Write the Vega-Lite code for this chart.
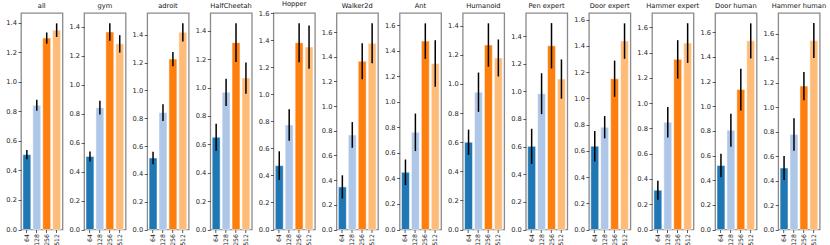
{
  "$schema": "https://vega.github.io/schema/vega-lite/v6.json",
  "background": "white",
  "padding": {"left": 5, "top": 0, "right": 5, "bottom": 0},
  "bounds": "flush",
  "spacing": 21.1,
  "config": {
    "font": "DejaVu Sans",
    "view": {"stroke": "#8a8a8a", "strokeWidth": 1.3},
    "title": {"fontSize": 6.7, "fontWeight": "normal", "font": "DejaVu Sans", "offset": 3, "color": "#111"},
    "axis": {"labelFont": "DejaVu Sans", "labelFontSize": 6.7, "labelColor": "#222", "tickSize": 3, "tickColor": "#333", "tickWidth": 0.8, "domain": false, "grid": false, "labelPadding": 1.5},
    "axisX": {"labelAngle": 270, "labelPadding": 1, "labelFontSize": 6.2},
    "axisY": {"format": ".1f"}
  },
  "data": {"values": [
    {"env": "all", "dim": "64", "mean": 0.507, "err": 0.032},
    {"env": "all", "dim": "128", "mean": 0.841, "err": 0.037},
    {"env": "all", "dim": "256", "mean": 1.296, "err": 0.038},
    {"env": "all", "dim": "512", "mean": 1.350, "err": 0.046},
    {"env": "gym", "dim": "64", "mean": 0.504, "err": 0.034},
    {"env": "gym", "dim": "128", "mean": 0.841, "err": 0.048},
    {"env": "gym", "dim": "256", "mean": 1.363, "err": 0.06},
    {"env": "gym", "dim": "512", "mean": 1.281, "err": 0.06},
    {"env": "adroit", "dim": "64", "mean": 0.514, "err": 0.045},
    {"env": "adroit", "dim": "128", "mean": 0.840, "err": 0.061},
    {"env": "adroit", "dim": "256", "mean": 1.225, "err": 0.051},
    {"env": "adroit", "dim": "512", "mean": 1.417, "err": 0.065},
    {"env": "HalfCheetah", "dim": "64", "mean": 0.650, "err": 0.095},
    {"env": "HalfCheetah", "dim": "128", "mean": 0.966, "err": 0.096},
    {"env": "HalfCheetah", "dim": "256", "mean": 1.316, "err": 0.136},
    {"env": "HalfCheetah", "dim": "512", "mean": 1.067, "err": 0.11},
    {"env": "Hopper", "dim": "64", "mean": 0.473, "err": 0.106},
    {"env": "Hopper", "dim": "128", "mean": 0.774, "err": 0.116},
    {"env": "Hopper", "dim": "256", "mean": 1.383, "err": 0.144},
    {"env": "Hopper", "dim": "512", "mean": 1.351, "err": 0.16},
    {"env": "Walker2d", "dim": "64", "mean": 0.345, "err": 0.094},
    {"env": "Walker2d", "dim": "128", "mean": 0.766, "err": 0.104},
    {"env": "Walker2d", "dim": "256", "mean": 1.363, "err": 0.146},
    {"env": "Walker2d", "dim": "512", "mean": 1.508, "err": 0.162},
    {"env": "Ant", "dim": "64", "mean": 0.448, "err": 0.1},
    {"env": "Ant", "dim": "128", "mean": 0.761, "err": 0.147},
    {"env": "Ant", "dim": "256", "mean": 1.475, "err": 0.139},
    {"env": "Ant", "dim": "512", "mean": 1.300, "err": 0.182},
    {"env": "Humanoid", "dim": "64", "mean": 0.599, "err": 0.087},
    {"env": "Humanoid", "dim": "128", "mean": 0.943, "err": 0.135},
    {"env": "Humanoid", "dim": "256", "mean": 1.267, "err": 0.149},
    {"env": "Humanoid", "dim": "512", "mean": 1.178, "err": 0.127},
    {"env": "Pen expert", "dim": "64", "mean": 0.602, "err": 0.127},
    {"env": "Pen expert", "dim": "128", "mean": 0.983, "err": 0.148},
    {"env": "Pen expert", "dim": "256", "mean": 1.330, "err": 0.164},
    {"env": "Pen expert", "dim": "512", "mean": 1.089, "err": 0.142},
    {"env": "Door expert", "dim": "64", "mean": 0.635, "err": 0.117},
    {"env": "Door expert", "dim": "128", "mean": 0.780, "err": 0.085},
    {"env": "Door expert", "dim": "256", "mean": 1.150, "err": 0.138},
    {"env": "Door expert", "dim": "512", "mean": 1.437, "err": 0.135},
    {"env": "Hammer expert", "dim": "64", "mean": 0.311, "err": 0.075},
    {"env": "Hammer expert", "dim": "128", "mean": 0.849, "err": 0.12},
    {"env": "Hammer expert", "dim": "256", "mean": 1.347, "err": 0.152},
    {"env": "Hammer expert", "dim": "512", "mean": 1.476, "err": 0.157},
    {"env": "Door human", "dim": "64", "mean": 0.519, "err": 0.096},
    {"env": "Door human", "dim": "128", "mean": 0.805, "err": 0.134},
    {"env": "Door human", "dim": "256", "mean": 1.135, "err": 0.169},
    {"env": "Door human", "dim": "512", "mean": 1.530, "err": 0.142},
    {"env": "Hammer human", "dim": "64", "mean": 0.503, "err": 0.099},
    {"env": "Hammer human", "dim": "128", "mean": 0.778, "err": 0.133},
    {"env": "Hammer human", "dim": "256", "mean": 1.173, "err": 0.116},
    {"env": "Hammer human", "dim": "512", "mean": 1.546, "err": 0.143}
  ]},
  "hconcat": [
    {"title": "all", "width": 41.5, "height": 216.5, "transform": [{"filter": "datum.env === 'all'"}],
     "encoding": {"x": {"field": "dim", "type": "ordinal", "sort": ["64","128","256","512"], "title": null, "scale": {"paddingInner": 0.2, "paddingOuter": 0.19}},
                  "y": {"field": "mean", "type": "quantitative", "title": null, "scale": {"domain": [0, 1.466], "nice": false}, "axis": {"values": [0,0.2,0.4,0.6,0.8,1.0,1.2,1.4]}}},
     "layer": [
       {"mark": {"type": "bar", "stroke": "white", "strokeWidth": 0.5}, "encoding": {"color": {"field": "dim", "type": "nominal", "scale": {"domain": ["64","128","256","512"], "range": ["#1f77b4","#aec7e8","#ff7f0e","#ffbb78"]}, "legend": null}}},
       {"mark": {"type": "errorbar", "color": "black", "thickness": 1.5}, "encoding": {"yError": {"field": "err"}}}
     ]},
    {"title": "gym", "width": 41.5, "height": 216.5, "transform": [{"filter": "datum.env === 'gym'"}],
     "encoding": {"x": {"field": "dim", "type": "ordinal", "sort": ["64","128","256","512"], "title": null, "scale": {"paddingInner": 0.2, "paddingOuter": 0.19}},
                  "y": {"field": "mean", "type": "quantitative", "title": null, "scale": {"domain": [0, 1.494], "nice": false}, "axis": {"values": [0,0.2,0.4,0.6,0.8,1.0,1.2,1.4]}}},
     "layer": [
       {"mark": {"type": "bar", "stroke": "white", "strokeWidth": 0.5}, "encoding": {"color": {"field": "dim", "type": "nominal", "scale": {"domain": ["64","128","256","512"], "range": ["#1f77b4","#aec7e8","#ff7f0e","#ffbb78"]}, "legend": null}}},
       {"mark": {"type": "errorbar", "color": "black", "thickness": 1.5}, "encoding": {"yError": {"field": "err"}}}
     ]},
    {"title": "adroit", "width": 41.5, "height": 216.5, "transform": [{"filter": "datum.env === 'adroit'"}],
     "encoding": {"x": {"field": "dim", "type": "ordinal", "sort": ["64","128","256","512"], "title": null, "scale": {"paddingInner": 0.2, "paddingOuter": 0.19}},
                  "y": {"field": "mean", "type": "quantitative", "title": null, "scale": {"domain": [0, 1.556], "nice": false}, "axis": {"values": [0,0.2,0.4,0.6,0.8,1.0,1.2,1.4]}}},
     "layer": [
       {"mark": {"type": "bar", "stroke": "white", "strokeWidth": 0.5}, "encoding": {"color": {"field": "dim", "type": "nominal", "scale": {"domain": ["64","128","256","512"], "range": ["#1f77b4","#aec7e8","#ff7f0e","#ffbb78"]}, "legend": null}}},
       {"mark": {"type": "errorbar", "color": "black", "thickness": 1.5}, "encoding": {"yError": {"field": "err"}}}
     ]},
    {"title": "HalfCheetah", "width": 41.5, "height": 216.5, "transform": [{"filter": "datum.env === 'HalfCheetah'"}],
     "encoding": {"x": {"field": "dim", "type": "ordinal", "sort": ["64","128","256","512"], "title": null, "scale": {"paddingInner": 0.2, "paddingOuter": 0.19}},
                  "y": {"field": "mean", "type": "quantitative", "title": null, "scale": {"domain": [0, 1.525], "nice": false}, "axis": {"values": [0,0.2,0.4,0.6,0.8,1.0,1.2,1.4]}}},
     "layer": [
       {"mark": {"type": "bar", "stroke": "white", "strokeWidth": 0.5}, "encoding": {"color": {"field": "dim", "type": "nominal", "scale": {"domain": ["64","128","256","512"], "range": ["#1f77b4","#aec7e8","#ff7f0e","#ffbb78"]}, "legend": null}}},
       {"mark": {"type": "errorbar", "color": "black", "thickness": 1.5}, "encoding": {"yError": {"field": "err"}}}
     ]},
    {"title": "Hopper", "width": 41.5, "height": 216.5, "transform": [{"filter": "datum.env === 'Hopper'"}],
     "encoding": {"x": {"field": "dim", "type": "ordinal", "sort": ["64","128","256","512"], "title": null, "scale": {"paddingInner": 0.2, "paddingOuter": 0.19}},
                  "y": {"field": "mean", "type": "quantitative", "title": null, "scale": {"domain": [0, 1.603], "nice": false}, "axis": {"values": [0,0.2,0.4,0.6,0.8,1.0,1.2,1.4,1.6]}}},
     "layer": [
       {"mark": {"type": "bar", "stroke": "white", "strokeWidth": 0.5}, "encoding": {"color": {"field": "dim", "type": "nominal", "scale": {"domain": ["64","128","256","512"], "range": ["#1f77b4","#aec7e8","#ff7f0e","#ffbb78"]}, "legend": null}}},
       {"mark": {"type": "errorbar", "color": "black", "thickness": 1.5}, "encoding": {"yError": {"field": "err"}}}
     ]},
    {"title": "Walker2d", "width": 41.5, "height": 216.5, "transform": [{"filter": "datum.env === 'Walker2d'"}],
     "encoding": {"x": {"field": "dim", "type": "ordinal", "sort": ["64","128","256","512"], "title": null, "scale": {"paddingInner": 0.2, "paddingOuter": 0.19}},
                  "y": {"field": "mean", "type": "quantitative", "title": null, "scale": {"domain": [0, 1.754], "nice": false}, "axis": {"values": [0,0.2,0.4,0.6,0.8,1.0,1.2,1.4,1.6]}}},
     "layer": [
       {"mark": {"type": "bar", "stroke": "white", "strokeWidth": 0.5}, "encoding": {"color": {"field": "dim", "type": "nominal", "scale": {"domain": ["64","128","256","512"], "range": ["#1f77b4","#aec7e8","#ff7f0e","#ffbb78"]}, "legend": null}}},
       {"mark": {"type": "errorbar", "color": "black", "thickness": 1.5}, "encoding": {"yError": {"field": "err"}}}
     ]},
    {"title": "Ant", "width": 41.5, "height": 216.5, "transform": [{"filter": "datum.env === 'Ant'"}],
     "encoding": {"x": {"field": "dim", "type": "ordinal", "sort": ["64","128","256","512"], "title": null, "scale": {"paddingInner": 0.2, "paddingOuter": 0.19}},
                  "y": {"field": "mean", "type": "quantitative", "title": null, "scale": {"domain": [0, 1.695], "nice": false}, "axis": {"values": [0,0.2,0.4,0.6,0.8,1.0,1.2,1.4,1.6]}}},
     "layer": [
       {"mark": {"type": "bar", "stroke": "white", "strokeWidth": 0.5}, "encoding": {"color": {"field": "dim", "type": "nominal", "scale": {"domain": ["64","128","256","512"], "range": ["#1f77b4","#aec7e8","#ff7f0e","#ffbb78"]}, "legend": null}}},
       {"mark": {"type": "errorbar", "color": "black", "thickness": 1.5}, "encoding": {"yError": {"field": "err"}}}
     ]},
    {"title": "Humanoid", "width": 41.5, "height": 216.5, "transform": [{"filter": "datum.env === 'Humanoid'"}],
     "encoding": {"x": {"field": "dim", "type": "ordinal", "sort": ["64","128","256","512"], "title": null, "scale": {"paddingInner": 0.2, "paddingOuter": 0.19}},
                  "y": {"field": "mean", "type": "quantitative", "title": null, "scale": {"domain": [0, 1.487], "nice": false}, "axis": {"values": [0,0.2,0.4,0.6,0.8,1.0,1.2,1.4]}}},
     "layer": [
       {"mark": {"type": "bar", "stroke": "white", "strokeWidth": 0.5}, "encoding": {"color": {"field": "dim", "type": "nominal", "scale": {"domain": ["64","128","256","512"], "range": ["#1f77b4","#aec7e8","#ff7f0e","#ffbb78"]}, "legend": null}}},
       {"mark": {"type": "errorbar", "color": "black", "thickness": 1.5}, "encoding": {"yError": {"field": "err"}}}
     ]},
    {"title": "Pen expert", "width": 41.5, "height": 216.5, "transform": [{"filter": "datum.env === 'Pen expert'"}],
     "encoding": {"x": {"field": "dim", "type": "ordinal", "sort": ["64","128","256","512"], "title": null, "scale": {"paddingInner": 0.2, "paddingOuter": 0.19}},
                  "y": {"field": "mean", "type": "quantitative", "title": null, "scale": {"domain": [0, 1.567], "nice": false}, "axis": {"values": [0,0.2,0.4,0.6,0.8,1.0,1.2,1.4]}}},
     "layer": [
       {"mark": {"type": "bar", "stroke": "white", "strokeWidth": 0.5}, "encoding": {"color": {"field": "dim", "type": "nominal", "scale": {"domain": ["64","128","256","512"], "range": ["#1f77b4","#aec7e8","#ff7f0e","#ffbb78"]}, "legend": null}}},
       {"mark": {"type": "errorbar", "color": "black", "thickness": 1.5}, "encoding": {"yError": {"field": "err"}}}
     ]},
    {"title": "Door expert", "width": 41.5, "height": 216.5, "transform": [{"filter": "datum.env === 'Door expert'"}],
     "encoding": {"x": {"field": "dim", "type": "ordinal", "sort": ["64","128","256","512"], "title": null, "scale": {"paddingInner": 0.2, "paddingOuter": 0.19}},
                  "y": {"field": "mean", "type": "quantitative", "title": null, "scale": {"domain": [0, 1.651], "nice": false}, "axis": {"values": [0,0.2,0.4,0.6,0.8,1.0,1.2,1.4,1.6]}}},
     "layer": [
       {"mark": {"type": "bar", "stroke": "white", "strokeWidth": 0.5}, "encoding": {"color": {"field": "dim", "type": "nominal", "scale": {"domain": ["64","128","256","512"], "range": ["#1f77b4","#aec7e8","#ff7f0e","#ffbb78"]}, "legend": null}}},
       {"mark": {"type": "errorbar", "color": "black", "thickness": 1.5}, "encoding": {"yError": {"field": "err"}}}
     ]},
    {"title": "Hammer expert", "width": 41.5, "height": 216.5, "transform": [{"filter": "datum.env === 'Hammer expert'"}],
     "encoding": {"x": {"field": "dim", "type": "ordinal", "sort": ["64","128","256","512"], "title": null, "scale": {"paddingInner": 0.2, "paddingOuter": 0.19}},
                  "y": {"field": "mean", "type": "quantitative", "title": null, "scale": {"domain": [0, 1.714], "nice": false}, "axis": {"values": [0,0.2,0.4,0.6,0.8,1.0,1.2,1.4,1.6]}}},
     "layer": [
       {"mark": {"type": "bar", "stroke": "white", "strokeWidth": 0.5}, "encoding": {"color": {"field": "dim", "type": "nominal", "scale": {"domain": ["64","128","256","512"], "range": ["#1f77b4","#aec7e8","#ff7f0e","#ffbb78"]}, "legend": null}}},
       {"mark": {"type": "errorbar", "color": "black", "thickness": 1.5}, "encoding": {"yError": {"field": "err"}}}
     ]},
    {"title": "Door human", "width": 41.5, "height": 216.5, "transform": [{"filter": "datum.env === 'Door human'"}],
     "encoding": {"x": {"field": "dim", "type": "ordinal", "sort": ["64","128","256","512"], "title": null, "scale": {"paddingInner": 0.2, "paddingOuter": 0.19}},
                  "y": {"field": "mean", "type": "quantitative", "title": null, "scale": {"domain": [0, 1.756], "nice": false}, "axis": {"values": [0,0.2,0.4,0.6,0.8,1.0,1.2,1.4,1.6]}}},
     "layer": [
       {"mark": {"type": "bar", "stroke": "white", "strokeWidth": 0.5}, "encoding": {"color": {"field": "dim", "type": "nominal", "scale": {"domain": ["64","128","256","512"], "range": ["#1f77b4","#aec7e8","#ff7f0e","#ffbb78"]}, "legend": null}}},
       {"mark": {"type": "errorbar", "color": "black", "thickness": 1.5}, "encoding": {"yError": {"field": "err"}}}
     ]},
    {"title": "Hammer human", "width": 41.5, "height": 216.5, "transform": [{"filter": "datum.env === 'Hammer human'"}],
     "encoding": {"x": {"field": "dim", "type": "ordinal", "sort": ["64","128","256","512"], "title": null, "scale": {"paddingInner": 0.2, "paddingOuter": 0.19}},
                  "y": {"field": "mean", "type": "quantitative", "title": null, "scale": {"domain": [0, 1.771], "nice": false}, "axis": {"values": [0,0.2,0.4,0.6,0.8,1.0,1.2,1.4,1.6]}}},
     "layer": [
       {"mark": {"type": "bar", "stroke": "white", "strokeWidth": 0.5}, "encoding": {"color": {"field": "dim", "type": "nominal", "scale": {"domain": ["64","128","256","512"], "range": ["#1f77b4","#aec7e8","#ff7f0e","#ffbb78"]}, "legend": null}}},
       {"mark": {"type": "errorbar", "color": "black", "thickness": 1.5}, "encoding": {"yError": {"field": "err"}}}
     ]}
  ]
}
